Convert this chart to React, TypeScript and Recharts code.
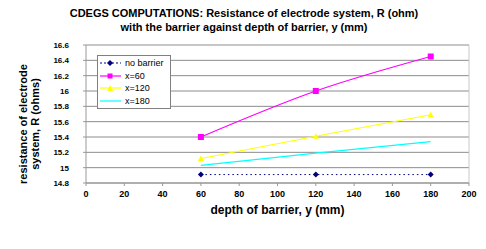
import { LineChart, Line, XAxis, YAxis, CartesianGrid, ReferenceLine } from "recharts";

const depths = [60, 120, 180];
const noBarrier = [14.91, 14.91, 14.91];
const x60 = [15.4, 16.0, 16.45];
const x120 = [15.12, 15.41, 15.69];
const x180 = [15.03, 15.19, 15.34];
const xTicks = [0, 20, 40, 60, 80, 100, 120, 140, 160, 180, 200];
const yTicks = [14.8, 15, 15.2, 15.4, 15.6, 15.8, 16, 16.2, 16.4, 16.6];

const data = depths.map((d, i) => ({
  depth: d,
  none: noBarrier[i],
  x60: x60[i],
  x120: x120[i],
  x180: x180[i],
}));

const font = "'Liberation Sans', Arial, sans-serif";
const yTick = { fontSize: 8, fontWeight: 700, fill: "#000", fontFamily: font };
const xTick = { fontSize: 9, fontWeight: 700, fill: "#000", fontFamily: font };

const legendItems = [
  { name: "no barrier", color: "#000080", dash: "2 2", marker: "diamond" },
  { name: "x=60", color: "#ff00ff", dash: undefined, marker: "square" },
  { name: "x=120", color: "#ffff00", dash: undefined, marker: "triangle" },
  { name: "x=180", color: "#00ffff", dash: undefined, marker: "none" },
];

function Marker({ kind, color }: { kind: string; color: string }) {
  if (kind === "diamond") return <polygon points="11,3 14,6 11,9 8,6" fill={color} />;
  if (kind === "square") return <rect x={8.5} y={3.5} width={5} height={5} fill={color} />;
  if (kind === "triangle") return <polygon points="11,3 14,9 8,9" fill={color} />;
  return null;
}

// legend drawn as an overlay so it does not shrink the plot area
function LegendBox() {
  return (
    <div
      style={{
        position: "absolute",
        left: 97,
        top: 55,
        border: "1px solid #808080",
        background: "#fff",
        width: 72,
        padding: "1px 0",
        fontFamily: font,
        fontSize: 9,
        lineHeight: "12.5px",
      }}
    >
      {legendItems.map((it) => (
        <div key={it.name} style={{ display: "flex", alignItems: "center", height: 12.5 }}>
          <svg width={26} height={12} style={{ marginLeft: 1 }}>
            <line x1={1} y1={6} x2={22} y2={6} stroke={it.color} strokeWidth={1.2} strokeDasharray={it.dash} />
            <Marker kind={it.marker} color={it.color} />
          </svg>
          <span style={{ color: "#000" }}>{it.name}</span>
        </div>
      ))}
    </div>
  );
}

const diamond = (props: any) => {
  const { cx, cy } = props;
  return <polygon key={`d${cx}`} points={`${cx},${cy - 3} ${cx + 3},${cy} ${cx},${cy + 3} ${cx - 3},${cy}`} fill="#000080" />;
};
const square = (props: any) => {
  const { cx, cy } = props;
  return <rect key={`s${cx}`} x={cx - 3} y={cy - 3} width={6} height={6} fill="#ff00ff" />;
};
const triangle = (props: any) => {
  const { cx, cy } = props;
  return <polygon key={`t${cx}`} points={`${cx},${cy - 3} ${cx + 3},${cy + 2.5} ${cx - 3},${cy + 2.5}`} fill="#ffff00" />;
};

function YLabel() {
  return (
    <text
      transform="translate(29,124) rotate(-90)"
      textAnchor="middle"
      fontFamily={font}
      fontSize={11}
      fontWeight={700}
      fill="#000"
    >
      <tspan x={0} dy={-2}>resistance of electrode</tspan>
      <tspan x={0} dy={12}>system, R (ohms)</tspan>
    </text>
  );
}

export default function App() {
  return (
    <div style={{ position: "absolute", left: 0, top: 0, width: 486, height: 249, background: "#fff" }}>
      <div
        style={{
          position: "absolute",
          left: 0,
          top: 6,
          width: 486,
          textAlign: "center",
          fontFamily: font,
          fontSize: 11,
          fontWeight: 700,
          lineHeight: "14px",
          marginLeft: 1,
        }}
      >
        CDEGS COMPUTATIONS: Resistance of electrode system, R (ohm)
        <br />
        with the barrier against depth of barrier, y (mm)
      </div>
      <LineChart width={486} height={249} data={data} margin={{ top: 45, right: 17, bottom: 36, left: 0 }}>
        <CartesianGrid vertical={false} stroke="#8c8c8c" />
        <ReferenceLine y={16.6} stroke="#c8c8c8" />
        <ReferenceLine x={200} stroke="#c8c8c8" />
        <XAxis
          dataKey="depth"
          type="number"
          domain={[0, 200]}
          ticks={xTicks}
          tick={xTick}
          stroke="#999"
          tickSize={3}
          tickMargin={5}
          label={{ value: "depth of barrier, y (mm)", position: "insideBottom", offset: -1, style: { fontFamily: font, fontSize: 12, fontWeight: 700, fill: "#000" } }}
        />
        <YAxis
          type="number"
          domain={[14.8, 16.6]}
          ticks={yTicks}
          interval={0}
          tick={yTick}
          width={86}
          stroke="#999"
          tickSize={3}
          tickMargin={14}
          tickFormatter={(v: number) => String(Math.round(v * 10) / 10)}
          label={<YLabel />}
        />
        <Line dataKey="none" stroke="#000080" strokeWidth={1} strokeDasharray="1.5 3" dot={diamond} isAnimationActive={false} />
        <Line dataKey="x60" type="monotone" stroke="#ff00ff" strokeWidth={1.2} dot={square} isAnimationActive={false} />
        <Line dataKey="x120" type="monotone" stroke="#ffff00" strokeWidth={1.2} dot={triangle} isAnimationActive={false} />
        <Line dataKey="x180" type="monotone" stroke="#00ffff" strokeWidth={1.2} dot={false} isAnimationActive={false} />
      </LineChart>
      <LegendBox />
    </div>
  );
}
